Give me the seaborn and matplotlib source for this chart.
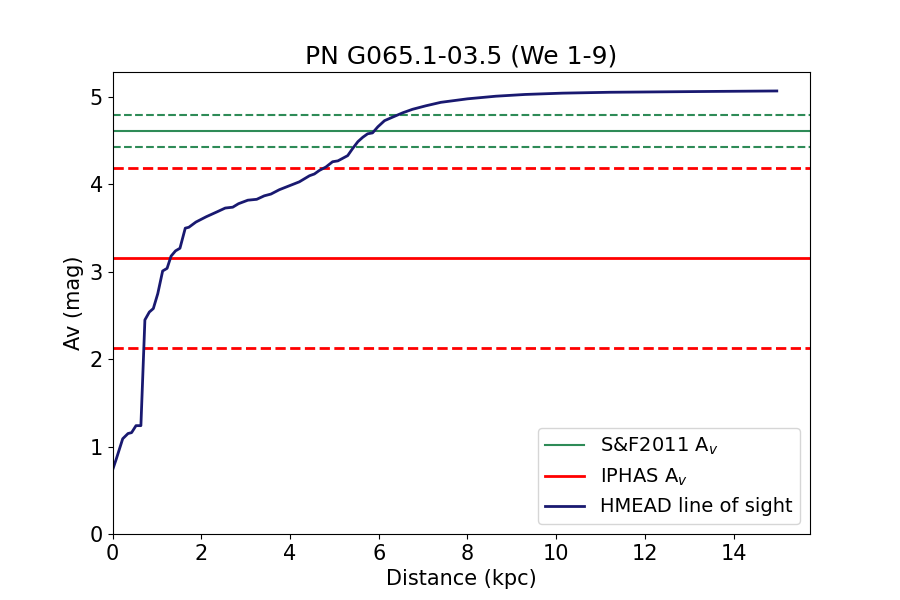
import numpy as np
import pandas as pd
import matplotlib
matplotlib.use("Agg")
import matplotlib.pyplot as plt
import seaborn as sns

# HMEAD line of sight
distance_kpc = [0.0, 0.08, 0.23, 0.35, 0.43, 0.53, 0.64, 0.73, 0.83, 0.92, 1.02,
                1.13, 1.23, 1.32, 1.42, 1.52, 1.64, 1.72, 1.88, 2.11, 2.37, 2.54,
                2.71, 2.84, 3.05, 3.25, 3.42, 3.57, 3.76, 3.91, 4.06, 4.21, 4.44,
                4.55, 4.66, 4.81, 4.96, 5.08, 5.19, 5.30, 5.41, 5.53, 5.64, 5.75,
                5.86, 5.98, 6.13, 6.31, 6.54, 6.76, 7.06, 7.40, 8.00, 8.64, 9.30,
                10.14, 11.2, 12.4, 13.6, 14.97]
av_mag = [0.73, 0.85, 1.09, 1.15, 1.16, 1.24, 1.24, 2.45, 2.54, 2.58, 2.75,
          3.01, 3.04, 3.18, 3.24, 3.27, 3.50, 3.51, 3.57, 3.63, 3.69, 3.73,
          3.74, 3.78, 3.82, 3.83, 3.87, 3.89, 3.94, 3.97, 4.00, 4.03, 4.10,
          4.12, 4.16, 4.20, 4.26, 4.27, 4.30, 4.33, 4.41, 4.49, 4.54, 4.58,
          4.59, 4.66, 4.73, 4.77, 4.82, 4.86, 4.90, 4.94, 4.98, 5.01, 5.03,
          5.045, 5.055, 5.06, 5.065, 5.07]

# Extinction estimates: value, lower, upper
sf2011_av = [4.61, 4.43, 4.80]
iphas_av = [3.16, 2.13, 4.19]

df = pd.DataFrame({"Distance": distance_kpc, "Av": av_mag})

fig, ax = plt.subplots(figsize=(9, 6), dpi=100)

ax.axhline(sf2011_av[0], color="seagreen", lw=1.5, label=r"S&F2011 A$_v$")
ax.axhline(sf2011_av[1], color="seagreen", lw=1.5, ls="--")
ax.axhline(sf2011_av[2], color="seagreen", lw=1.5, ls="--")

ax.axhline(iphas_av[0], color="red", lw=2, label=r"IPHAS A$_v$")
ax.axhline(iphas_av[1], color="red", lw=2, ls="--")
ax.axhline(iphas_av[2], color="red", lw=2, ls="--")

sns.lineplot(data=df, x="Distance", y="Av", ax=ax, color="midnightblue",
             lw=2, label="HMEAD line of sight")

ax.set_xlim(left=0)
ax.set_ylim(bottom=0)
ax.set_title("PN G065.1-03.5 (We 1-9)", fontsize=18)
ax.set_xlabel("Distance (kpc)", fontsize=15)
ax.set_ylabel("Av (mag)", fontsize=15)
ax.tick_params(labelsize=15)
ax.legend(loc="lower right", fontsize=14)

fig.savefig("out.png", dpi=100)
